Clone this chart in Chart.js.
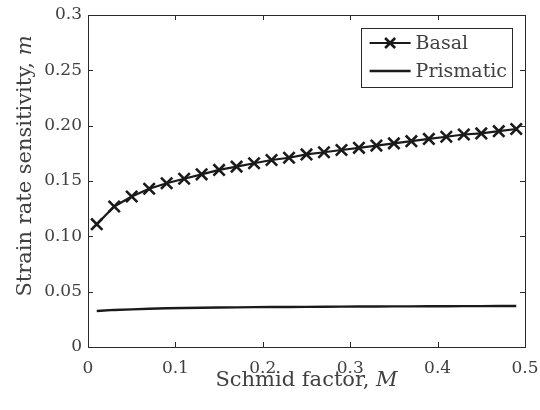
<!DOCTYPE html>
<html>
<head>
<meta charset="utf-8">
<script src="https://cdn.jsdelivr.net/npm/chart.js@4"></script>
<style>
  body { margin: 0; background: #fff; }
  #wrap { width: 540px; height: 410px; }
</style>
</head>
<body>
<div id="wrap"><canvas id="chart" width="540" height="410"></canvas></div>
<script>
// Schmid factor sample points
var schmid = [0.01, 0.03, 0.05, 0.07, 0.09, 0.11, 0.13, 0.15, 0.17, 0.19, 0.21, 0.23, 0.25,
              0.27, 0.29, 0.31, 0.33, 0.35, 0.37, 0.39, 0.41, 0.43, 0.45, 0.47, 0.49];

var basal = [0.111, 0.127, 0.136, 0.143, 0.148, 0.152, 0.156, 0.160, 0.163, 0.166, 0.169, 0.171, 0.174,
             0.176, 0.178, 0.180, 0.182, 0.184, 0.186, 0.188, 0.190, 0.192, 0.193, 0.195, 0.197];

var prismatic = [0.0325, 0.0335, 0.0340, 0.0345, 0.0350, 0.0353, 0.0355, 0.0357, 0.0358, 0.0360, 0.0361, 0.0362, 0.0363,
                 0.0364, 0.0365, 0.0366, 0.0366, 0.0367, 0.0367, 0.0368, 0.0368, 0.0369, 0.0369, 0.0370, 0.0370];

var xTickLabels = ['0', '0.1', '0.2', '0.3', '0.4', '0.5'];
var yTickLabels = ['0', '0.05', '0.10', '0.15', '0.20', '0.25', '0.3'];

var xTitle = ['Schmid factor, ', 'M'];
var yTitle = ['Strain rate sensitivity, ', 'm'];

var FONT = '"DejaVu Serif", "Liberation Serif", serif';
var TEXT = '#404040';
var INK = '#1a1a1a';

function pts(ys) {
  return schmid.map(function (x, i) { return { x: x, y: ys[i] }; });
}

// frame, inward ticks, axis titles and legend, drawn in the MATLAB way
var matlabLook = {
  id: 'matlabLook',
  afterDraw: function (chart) {
    var c = chart.ctx, a = chart.chartArea;
    var xs = chart.scales.x, ys = chart.scales.y;
    c.save();
    c.strokeStyle = '#2a2a2a';
    c.lineWidth = 1;
    c.strokeRect(Math.round(a.left) + 0.5, Math.round(a.top) + 0.5,
                 Math.round(a.right - a.left), Math.round(a.bottom - a.top));
    c.beginPath();
    xs.ticks.forEach(function (t, i) {
      var px = Math.round(xs.getPixelForTick(i)) + 0.5;
      c.moveTo(px, a.bottom); c.lineTo(px, a.bottom - 5);
      c.moveTo(px, a.top); c.lineTo(px, a.top + 5);
    });
    ys.ticks.forEach(function (t, i) {
      var py = Math.round(ys.getPixelForTick(i)) + 0.5;
      c.moveTo(a.left, py); c.lineTo(a.left + 5, py);
      c.moveTo(a.right, py); c.lineTo(a.right - 5, py);
    });
    c.stroke();

    // axis titles with italic variable
    c.fillStyle = TEXT;
    c.textBaseline = 'alphabetic';
    function mixed(parts, cx, cy) {
      c.font = '21px ' + FONT;
      var w1 = c.measureText(parts[0]).width;
      c.font = 'italic 21px ' + FONT;
      var w2 = c.measureText(parts[1]).width;
      var x0 = cx - (w1 + w2) / 2;
      c.font = '21px ' + FONT;
      c.fillText(parts[0], x0, cy);
      c.font = 'italic 21px ' + FONT;
      c.fillText(parts[1], x0 + w1, cy);
    }
    mixed(xTitle, (a.left + a.right) / 2, 386);
    c.save();
    c.translate(31, 166);
    c.rotate(-Math.PI / 2);
    mixed(yTitle, 0, 0);
    c.restore();

    // legend
    c.font = '19px ' + FONT;
    var tw = 0;
    chart.data.datasets.forEach(function (d) { tw = Math.max(tw, c.measureText(d.label).width); });
    var boxW = 9 + 41 + 5 + tw + 5, boxH = 59;
    var bx = a.right - 13 - boxW, by = a.top + 13;
    c.fillStyle = '#fff';
    c.fillRect(bx, by, boxW, boxH);
    c.strokeStyle = '#2a2a2a';
    c.lineWidth = 1;
    c.strokeRect(Math.round(bx) + 0.5, Math.round(by) + 0.5, Math.round(boxW), boxH);
    chart.data.datasets.forEach(function (d, i) {
      var ry = by + 15 + i * 28;
      var lx = bx + 9;
      c.strokeStyle = d.borderColor;
      c.lineWidth = d.borderWidth;
      c.beginPath(); c.moveTo(lx, ry); c.lineTo(lx + 41, ry); c.stroke();
      if (d.pointRadius > 0) {
        var r = 5, mx = lx + 20.5;
        c.beginPath();
        c.moveTo(mx - r, ry - r); c.lineTo(mx + r, ry + r);
        c.moveTo(mx - r, ry + r); c.lineTo(mx + r, ry - r);
        c.lineWidth = d.pointBorderWidth;
        c.stroke();
      }
      c.fillStyle = TEXT;
      c.textBaseline = 'middle';
      c.font = '19px ' + FONT;
      c.fillText(d.label, lx + 46, ry + 1);
    });
    c.restore();
  }
};

new Chart(document.getElementById('chart'), {
  type: 'line',
  data: {
    datasets: [
      {
        label: 'Basal',
        data: pts(basal),
        borderColor: INK,
        borderWidth: 2.2,
        pointStyle: 'crossRot',
        pointRadius: 8,
        pointBorderWidth: 2.6,
        pointBorderColor: INK,
        tension: 0
      },
      {
        label: 'Prismatic',
        data: pts(prismatic),
        borderColor: INK,
        borderWidth: 2.4,
        pointRadius: 0,
        tension: 0
      }
    ]
  },
  options: {
    responsive: false,
    animation: false,
    layout: { padding: { left: 0, top: 15, right: 15, bottom: 0 } },
    plugins: { legend: { display: false }, tooltip: { enabled: false } },
    scales: {
      x: {
        type: 'linear', min: 0, max: 0.5,
        grid: { display: false, drawTicks: false },
        border: { display: false },
        afterFit: function (s) { s.height = 63; s.paddingLeft = 0; s.paddingRight = 0; },
        ticks: {
          stepSize: 0.1, padding: 11, color: TEXT, maxRotation: 0,
          font: { family: FONT, size: 17 },
          callback: function (v, i) { return xTickLabels[i]; }
        }
      },
      y: {
        type: 'linear', min: 0, max: 0.3,
        grid: { display: false, drawTicks: false },
        border: { display: false },
        afterFit: function (s) { s.width = 88; s.paddingTop = 0; s.paddingBottom = 0; },
        ticks: {
          stepSize: 0.05, padding: 6, color: TEXT,
          font: { family: FONT, size: 17 },
          callback: function (v, i) { return yTickLabels[i]; }
        }
      }
    }
  },
  plugins: [matlabLook]
});
</script>
</body>
</html>
